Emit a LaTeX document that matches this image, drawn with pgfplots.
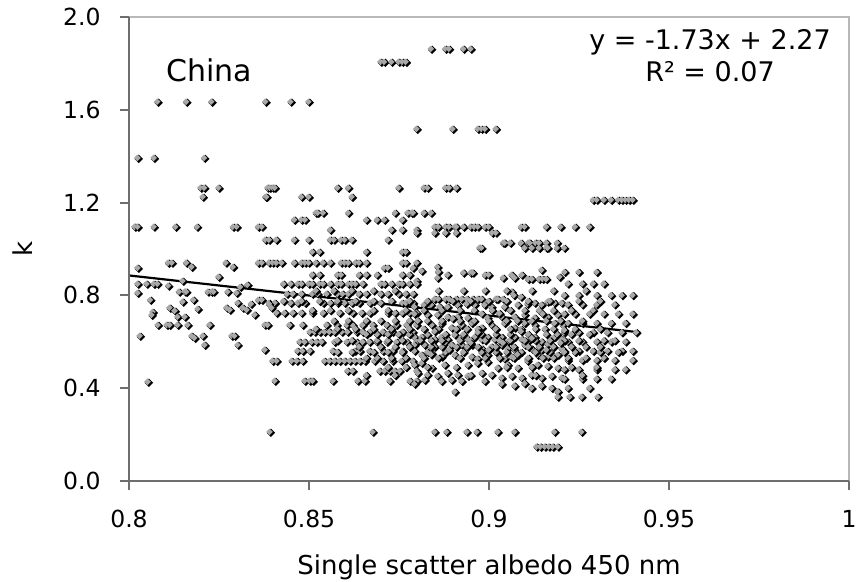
\documentclass[border=0pt]{standalone}
\usepackage{fontspec}
\setmainfont{DejaVu Sans}
\usepackage{pgfplots}
\pgfplotsset{compat=1.18}
\definecolor{axdark}{HTML}{6E6E6E}
\definecolor{axlight}{HTML}{B8B8B8}
\definecolor{markgray}{HTML}{A8A8A8}
% diamond with a dark lower-right edge
\pgfdeclareplotmark{kdiam}{%
  \pgfsetfillcolor{black}%
  \pgfpathmoveto{\pgfqpoint{0.8pt}{3.4pt}}%
  \pgfpathlineto{\pgfqpoint{5.0pt}{-0.8pt}}%
  \pgfpathlineto{\pgfqpoint{0.8pt}{-5.0pt}}%
  \pgfpathlineto{\pgfqpoint{-3.4pt}{-0.8pt}}%
  \pgfpathclose\pgfusepath{fill}%
  \pgfsetfillcolor{markgray}%
  \pgfpathmoveto{\pgfqpoint{-0.6pt}{3.5pt}}%
  \pgfpathlineto{\pgfqpoint{2.7pt}{0.2pt}}%
  \pgfpathlineto{\pgfqpoint{-0.6pt}{-3.1pt}}%
  \pgfpathlineto{\pgfqpoint{-3.9pt}{0.2pt}}%
  \pgfpathclose\pgfusepath{fill}%
}
\begin{document}
\begin{tikzpicture}
\path[use as bounding box] (-129pt,-100pt) rectangle (733pt,481pt);
\begin{axis}[
  name=ax, at={(0pt,0pt)}, anchor=south west,
  scale only axis, width=720pt, height=464pt,
  xmin=0.8, xmax=1, ymin=0, ymax=2,
  xtick={0.8,0.85,0.9,0.95,1},
  ytick={0,0.4,0.8,1.2,1.6,2},
  xtick pos=bottom, ytick pos=left,
  tick align=outside, major tick length=9pt,
  tick style={axdark, line width=2pt},
  axis line style={draw=none},
  ticklabel style={font=\fontsize{23.5}{28}\selectfont, /pgf/number format/assume math mode=true},
  xticklabel style={yshift=-17pt, /pgf/number format/.cd, fixed, precision=2},
  yticklabel style={xshift=-16pt, /pgf/number format/.cd, fixed, fixed zerofill, precision=1},
  xlabel={Single scatter albedo 450 nm},
  ylabel={k},
  label style={font=\fontsize{26}{30}\selectfont},
  xlabel style={at={(axis description cs:0.5,0)}, anchor=base, yshift=-93pt},
  ylabel style={at={(axis description cs:0,0.5)}, anchor=center, yshift=106pt},
]
% measured k values
\addplot[only marks, mark=kdiam] coordinates {
(0.884,1.862)(0.888,1.862)(0.889,1.862)(0.893,1.862)(0.895,1.862)
(0.870,1.806)(0.871,1.806)(0.873,1.806)(0.875,1.806)(0.876,1.806)(0.877,1.806)
(0.808,1.634)(0.816,1.634)(0.823,1.634)(0.838,1.634)(0.845,1.634)(0.850,1.634)
(0.880,1.517)(0.890,1.517)(0.897,1.517)(0.898,1.517)(0.899,1.517)(0.902,1.517)
(0.8025,1.392)(0.807,1.392)(0.821,1.392)
(0.820,1.263)(0.821,1.263)(0.825,1.263)(0.8386,1.263)(0.8392,1.263)(0.840,1.263)(0.8406,1.263)(0.858,1.263)(0.861,1.263)(0.875,1.263)(0.882,1.263)(0.883,1.263)(0.888,1.263)(0.889,1.263)(0.891,1.263)
(0.8206,1.224)(0.838,1.224)(0.8383,1.224)(0.848,1.224)(0.850,1.224)(0.862,1.224)
(0.929,1.211)(0.930,1.211)(0.932,1.211)(0.934,1.211)(0.936,1.211)(0.937,1.211)(0.938,1.211)(0.939,1.211)(0.940,1.211)
(0.852,1.155)(0.8525,1.155)(0.854,1.155)(0.861,1.155)(0.874,1.155)(0.8775,1.155)(0.8786,1.155)(0.879,1.155)(0.882,1.155)(0.884,1.155)
(0.846,1.125)(0.848,1.125)(0.849,1.125)(0.866,1.125)(0.869,1.125)(0.871,1.125)(0.876,1.125)
(0.8017,1.095)(0.8025,1.095)(0.807,1.095)(0.813,1.095)(0.819,1.095)(0.829,1.095)(0.830,1.095)(0.836,1.095)(0.837,1.095)
(0.885,1.095)(0.886,1.095)(0.888,1.095)(0.889,1.095)(0.8906,1.095)(0.891,1.095)(0.893,1.095)(0.895,1.095)(0.896,1.095)(0.897,1.095)(0.899,1.095)(0.900,1.095)(0.909,1.095)(0.910,1.095)(0.916,1.095)(0.920,1.095)(0.924,1.095)(0.928,1.095)
(0.856,1.082)(0.873,1.082)(0.876,1.082)(0.880,1.082)
(0.880,1.069)(0.885,1.069)(0.888,1.069)(0.891,1.069)(0.901,1.069)(0.902,1.069)
(0.838,1.039)(0.839,1.039)(0.841,1.039)(0.846,1.039)(0.850,1.039)(0.856,1.039)(0.857,1.039)(0.859,1.039)(0.860,1.039)(0.862,1.039)(0.872,1.039)
(0.904,1.026)(0.9044,1.026)(0.906,1.026)(0.909,1.026)(0.911,1.026)(0.9114,1.026)(0.913,1.026)(0.914,1.026)(0.916,1.026)(0.919,1.026)
(0.8975,1.004)(0.898,1.004)(0.910,1.004)(0.912,1.004)(0.914,1.004)(0.916,1.004)(0.9164,1.004)(0.919,1.004)(0.921,1.004)
(0.851,0.987)(0.853,0.987)(0.866,0.987)(0.876,0.987)(0.877,0.987)
(0.811,0.940)(0.812,0.940)(0.816,0.940)(0.827,0.940)(0.836,0.940)(0.837,0.940)(0.839,0.940)(0.840,0.940)(0.841,0.940)(0.8425,0.940)(0.846,0.940)(0.848,0.940)(0.849,0.940)(0.850,0.940)(0.852,0.940)(0.854,0.940)(0.856,0.940)(0.859,0.940)(0.860,0.940)(0.861,0.940)(0.863,0.940)(0.864,0.940)(0.866,0.940)(0.876,0.940)(0.877,0.940)(0.880,0.940)
(0.8175,0.922)(0.829,0.922)(0.8858,0.922)(0.8025,0.918)(0.871,0.918)(0.872,0.918)(0.879,0.918)
(0.8814,0.905)(0.9147,0.909)(0.886,0.901)(0.893,0.897)(0.895,0.897)(0.8956,0.897)
(0.851,0.888)(0.853,0.888)(0.858,0.888)(0.859,0.888)(0.864,0.888)(0.866,0.888)(0.869,0.888)(0.876,0.888)(0.878,0.888)(0.8886,0.888)(0.899,0.888)(0.900,0.888)(0.9064,0.888)(0.9092,0.888)
(0.825,0.879)(0.9197,0.879)(0.8858,0.875)(0.904,0.875)(0.9072,0.875)
(0.911,0.870)(0.912,0.870)(0.914,0.870)(0.915,0.870)(0.916,0.870)(0.815,0.862)(0.880,0.862)
(0.8025,0.849)(0.805,0.849)(0.807,0.849)(0.808,0.849)(0.843,0.849)(0.845,0.849)(0.847,0.849)(0.848,0.849)(0.850,0.849)(0.851,0.849)(0.853,0.849)(0.854,0.849)(0.856,0.849)(0.858,0.849)(0.859,0.849)(0.861,0.849)(0.862,0.849)(0.863,0.849)(0.865,0.849)(0.870,0.849)(0.871,0.849)(0.873,0.849)(0.875,0.849)(0.876,0.849)(0.878,0.849)(0.880,0.849)
(0.833,0.845)(0.811,0.841)(0.831,0.836)
(0.814,0.815)(0.8156,0.815)(0.816,0.815)(0.822,0.815)(0.823,0.815)(0.8236,0.815)(0.8275,0.815)(0.9064,0.815)(0.8025,0.810)(0.830,0.810)
(0.844,0.806)(0.8456,0.806)(0.848,0.806)(0.851,0.806)(0.8525,0.806)(0.855,0.806)(0.858,0.806)(0.8594,0.806)(0.861,0.806)(0.864,0.806)(0.866,0.806)(0.870,0.806)(0.872,0.806)(0.875,0.806)(0.877,0.806)(0.879,0.806)
(0.907,0.800)(0.909,0.793)
(0.885,0.784)(0.886,0.784)(0.888,0.784)(0.889,0.784)(0.891,0.784)(0.8925,0.784)(0.894,0.784)(0.8956,0.784)(0.897,0.784)(0.898,0.784)(0.902,0.784)(0.9025,0.784)(0.904,0.784)
(0.806,0.780)(0.818,0.780)(0.836,0.780)(0.837,0.780)(0.815,0.772)
(0.839,0.767)(0.8406,0.767)(0.845,0.767)(0.847,0.767)(0.849,0.767)(0.854,0.767)(0.856,0.767)(0.858,0.767)(0.860,0.767)(0.862,0.767)(0.864,0.767)(0.867,0.767)(0.870,0.767)(0.876,0.767)(0.877,0.767)(0.879,0.767)
(0.834,0.763)(0.839,0.763)
(0.8794,0.750)(0.882,0.759)(0.884,0.759)(0.8864,0.750)(0.8886,0.750)(0.8914,0.759)(0.8939,0.763)(0.8961,0.759)(0.8989,0.759)(0.9008,0.750)(0.9044,0.750)(0.9081,0.759)(0.9108,0.763)(0.9128,0.767)(0.9147,0.759)(0.9164,0.772)(0.9183,0.767)(0.9203,0.767)
(0.8114,0.746)(0.8128,0.733)(0.8136,0.707)(0.8156,0.707)(0.8192,0.741)(0.8272,0.746)(0.8281,0.737)(0.8303,0.767)(0.8317,0.746)(0.8328,0.737)(0.8397,0.746)(0.8067,0.728)(0.8064,0.715)
(0.8411,0.724)(0.8433,0.724)(0.8456,0.724)(0.848,0.724)(0.851,0.724)(0.854,0.724)(0.8586,0.724)(0.8622,0.724)(0.8647,0.724)(0.867,0.724)(0.872,0.724)(0.874,0.724)(0.876,0.724)(0.878,0.724)(0.880,0.724)
(0.8794,0.720)(0.883,0.716)(0.8858,0.716)(0.8886,0.707)(0.8914,0.707)(0.8942,0.703)(0.8981,0.720)(0.8997,0.703)(0.9036,0.707)(0.9072,0.707)(0.910,0.716)(0.9128,0.703)(0.9164,0.707)(0.9192,0.716)(0.835,0.716)
(0.8081,0.672)(0.8106,0.672)(0.8114,0.672)(0.8136,0.672)(0.8164,0.672)(0.8225,0.672)(0.8378,0.672)(0.8386,0.672)(0.8447,0.672)(0.8483,0.672)(0.855,0.672)(0.8578,0.672)(0.8606,0.672)(0.8622,0.672)(0.865,0.672)(0.8678,0.672)(0.8717,0.672)(0.8744,0.672)(0.8772,0.672)(0.880,0.672)
(0.8803,0.690)(0.8842,0.672)(0.8869,0.680)(0.8897,0.660)(0.8925,0.672)(0.8953,0.680)(0.8981,0.660)(0.9008,0.672)(0.9044,0.680)(0.9072,0.660)(0.910,0.680)(0.9128,0.672)(0.9156,0.655)(0.9183,0.680)(0.9206,0.672)
(0.8503,0.642)(0.8517,0.642)(0.8531,0.642)(0.8544,0.642)(0.8558,0.642)(0.8572,0.642)(0.8592,0.642)(0.8608,0.642)(0.8633,0.642)(0.865,0.642)(0.8669,0.642)(0.8706,0.642)(0.8733,0.642)(0.8761,0.642)(0.8789,0.642)
(0.8031,0.625)(0.8175,0.625)(0.8206,0.625)(0.8286,0.625)(0.8294,0.625)(0.8183,0.616)(0.8211,0.586)(0.8303,0.586)
(0.8794,0.620)(0.8814,0.620)(0.883,0.630)(0.885,0.610)(0.8869,0.620)(0.8886,0.610)(0.8906,0.630)(0.8925,0.620)(0.8942,0.610)(0.8961,0.620)(0.8981,0.610)(0.8997,0.620)(0.9017,0.610)(0.9036,0.620)(0.9053,0.600)(0.9072,0.620)(0.9092,0.610)(0.9108,0.600)(0.9128,0.620)(0.9147,0.600)(0.9164,0.590)(0.9183,0.620)(0.9203,0.610)
(0.8475,0.599)(0.8489,0.599)(0.8508,0.599)(0.8522,0.599)(0.8536,0.599)(0.8572,0.599)(0.8606,0.599)(0.8633,0.599)(0.865,0.599)(0.8669,0.599)(0.8689,0.599)(0.8717,0.599)(0.8744,0.599)(0.8772,0.599)(0.880,0.599)
(0.8794,0.586)(0.8822,0.586)(0.885,0.578)(0.8878,0.595)(0.8897,0.586)(0.8925,0.586)(0.8953,0.586)(0.8981,0.570)(0.9008,0.578)(0.9036,0.586)(0.9053,0.570)(0.9072,0.565)(0.910,0.586)(0.9119,0.570)(0.9147,0.565)(0.9175,0.586)(0.9203,0.570)
(0.8469,0.560)(0.8483,0.560)(0.8503,0.560)(0.8567,0.560)(0.8628,0.560)(0.8642,0.560)(0.8669,0.560)(0.8706,0.560)(0.8733,0.560)(0.8761,0.560)(0.8794,0.560)(0.8378,0.565)
(0.8814,0.543)(0.8842,0.550)(0.8869,0.535)(0.8906,0.543)(0.8953,0.535)(0.8969,0.526)(0.8997,0.543)(0.9025,0.550)(0.9044,0.526)(0.9064,0.535)(0.9081,0.543)(0.9108,0.526)(0.9136,0.543)(0.9164,0.535)(0.9192,0.543)
(0.8400,0.517)(0.8411,0.517)(0.8453,0.517)(0.8467,0.517)(0.8483,0.517)(0.8544,0.517)(0.8558,0.517)(0.8572,0.517)(0.8586,0.517)(0.860,0.517)(0.8614,0.517)(0.8628,0.517)(0.8642,0.517)(0.8656,0.517)(0.8683,0.517)(0.8706,0.517)(0.8733,0.517)(0.8758,0.517)(0.8789,0.517)
(0.8794,0.500)(0.8814,0.508)(0.8842,0.487)(0.8878,0.500)(0.8942,0.500)(0.8969,0.508)(0.8997,0.513)(0.9025,0.487)(0.9053,0.500)(0.9081,0.487)(0.9108,0.517)(0.9136,0.500)(0.9164,0.495)(0.9192,0.487)
(0.8608,0.474)(0.8622,0.474)(0.8697,0.474)(0.8711,0.474)(0.8725,0.474)(0.8739,0.474)(0.8753,0.474)(0.880,0.474)
(0.8803,0.465)(0.883,0.457)(0.8858,0.452)(0.8886,0.465)(0.8914,0.457)(0.8942,0.452)(0.8981,0.465)(0.9008,0.457)(0.9036,0.444)(0.9064,0.452)(0.9092,0.444)(0.9119,0.457)(0.9147,0.444)(0.9175,0.452)(0.9203,0.444)
(0.8406,0.431)(0.8489,0.431)(0.8503,0.431)(0.8511,0.431)(0.8567,0.431)(0.8636,0.431)(0.8656,0.431)(0.8725,0.431)(0.8781,0.431)(0.880,0.431)(0.8053,0.427)
(0.8794,0.418)(0.8822,0.435)(0.8869,0.430)(0.8897,0.435)(0.8906,0.384)(0.8925,0.430)(0.8989,0.430)(0.9036,0.418)(0.9072,0.410)(0.910,0.420)(0.9119,0.400)(0.9147,0.410)(0.9175,0.400)(0.9192,0.385)
(0.9192,0.362)(0.9225,0.362)(0.9258,0.362)(0.9303,0.362)
(0.8392,0.211)(0.8678,0.211)(0.885,0.211)(0.8883,0.211)(0.8939,0.211)(0.8967,0.211)(0.9025,0.211)(0.9072,0.211)(0.9183,0.211)(0.9258,0.211)
(0.9133,0.147)(0.9144,0.147)(0.9156,0.147)(0.9167,0.147)(0.9178,0.147)(0.9192,0.147)
(0.9211,0.900)(0.925,0.900)(0.930,0.900)
(0.922,0.850)(0.926,0.850)(0.929,0.850)(0.932,0.850)
(0.921,0.800)(0.925,0.800)(0.930,0.800)(0.934,0.800)(0.937,0.800)(0.940,0.800)
(0.922,0.760)(0.926,0.760)(0.930,0.760)(0.935,0.760)
(0.921,0.720)(0.924,0.720)(0.928,0.720)(0.932,0.720)(0.936,0.720)(0.940,0.720)
(0.922,0.680)(0.926,0.680)(0.930,0.680)(0.934,0.680)(0.938,0.680)
(0.921,0.640)(0.925,0.640)(0.929,0.640)(0.933,0.640)(0.937,0.640)(0.941,0.640)
(0.922,0.600)(0.926,0.600)(0.930,0.600)(0.934,0.600)(0.938,0.600)
(0.921,0.560)(0.925,0.560)(0.929,0.560)(0.933,0.560)(0.937,0.560)(0.940,0.560)
(0.922,0.520)(0.926,0.520)(0.930,0.520)(0.935,0.520)(0.940,0.520)
(0.921,0.480)(0.925,0.480)(0.930,0.480)(0.935,0.480)(0.938,0.480)
(0.921,0.440)(0.926,0.440)(0.930,0.440)(0.934,0.440)
(0.922,0.400)(0.928,0.400)
(0.866,0.530)(0.869,0.530)(0.873,0.530)(0.877,0.530)(0.882,0.530)(0.886,0.530)(0.892,0.530)(0.899,0.530)(0.903,0.530)(0.907,0.530)(0.911,0.530)(0.915,0.530)(0.918,0.530)(0.922,0.530)(0.927,0.530)(0.932,0.530)
(0.858,0.555)(0.862,0.555)(0.868,0.555)(0.872,0.555)(0.876,0.555)(0.883,0.555)(0.888,0.555)(0.893,0.555)(0.898,0.555)(0.902,0.555)(0.905,0.555)(0.909,0.555)(0.913,0.555)(0.917,0.555)(0.921,0.555)(0.924,0.555)(0.931,0.555)(0.936,0.555)
(0.864,0.578)(0.870,0.578)(0.874,0.578)(0.878,0.578)(0.884,0.578)(0.887,0.578)(0.891,0.578)(0.894,0.578)(0.897,0.578)(0.902,0.578)(0.907,0.578)(0.911,0.578)(0.914,0.578)(0.918,0.578)(0.923,0.578)(0.927,0.578)(0.931,0.578)
(0.858,0.605)(0.862,0.605)(0.869,0.605)(0.872,0.605)(0.876,0.605)(0.881,0.605)(0.884,0.605)(0.887,0.605)(0.892,0.605)(0.895,0.605)(0.899,0.605)(0.903,0.605)(0.906,0.605)(0.910,0.605)(0.913,0.605)(0.917,0.605)(0.921,0.605)(0.925,0.605)(0.932,0.605)(0.935,0.605)
(0.866,0.632)(0.869,0.632)(0.872,0.632)(0.875,0.632)(0.878,0.632)(0.888,0.632)(0.893,0.632)(0.898,0.632)(0.902,0.632)(0.906,0.632)(0.911,0.632)(0.916,0.632)(0.919,0.632)(0.923,0.632)(0.928,0.632)
(0.852,0.655)(0.858,0.655)(0.863,0.655)(0.868,0.655)(0.873,0.655)(0.878,0.655)(0.882,0.655)(0.886,0.655)(0.891,0.655)(0.894,0.655)(0.897,0.655)(0.902,0.655)(0.906,0.655)(0.909,0.655)(0.913,0.655)(0.918,0.655)(0.924,0.655)(0.931,0.655)
(0.857,0.690)(0.861,0.690)(0.866,0.690)(0.870,0.690)(0.874,0.690)(0.878,0.690)(0.883,0.690)(0.887,0.690)(0.892,0.690)(0.896,0.690)(0.900,0.690)(0.905,0.690)(0.908,0.690)(0.912,0.690)(0.916,0.690)(0.920,0.690)(0.926,0.690)
(0.851,0.735)(0.856,0.735)(0.861,0.735)(0.868,0.735)(0.872,0.735)(0.877,0.735)(0.882,0.735)(0.887,0.735)(0.892,0.735)(0.896,0.735)(0.901,0.735)(0.906,0.735)(0.910,0.735)(0.914,0.735)(0.918,0.735)(0.923,0.735)(0.929,0.735)
(0.843,0.775)(0.848,0.775)(0.853,0.775)(0.858,0.775)(0.863,0.775)(0.868,0.775)(0.873,0.775)(0.878,0.775)(0.883,0.775)(0.890,0.775)(0.895,0.775)(0.900,0.775)(0.905,0.775)(0.911,0.775)(0.917,0.775)(0.925,0.775)(0.931,0.775)
(0.852,0.820)(0.857,0.820)(0.862,0.820)(0.868,0.820)(0.874,0.820)(0.886,0.820)(0.893,0.820)(0.899,0.820)(0.905,0.820)(0.912,0.820)(0.918,0.820)(0.927,0.820)
(0.872,0.490)(0.877,0.490)(0.883,0.490)(0.891,0.490)(0.905,0.490)(0.912,0.490)(0.923,0.490)(0.930,0.490)
(0.866,0.455)(0.874,0.455)(0.895,0.455)(0.913,0.455)(0.926,0.455)
(0.884,0.545)(0.889,0.565)(0.895,0.595)(0.900,0.565)(0.904,0.595)(0.908,0.545)(0.912,0.615)(0.916,0.565)(0.920,0.595)(0.885,0.645)(0.890,0.700)(0.897,0.640)(0.903,0.722)(0.909,0.645)(0.915,0.720)(0.921,0.650)
};
% linear trend y = -1.73x + 2.27
\addplot[black, line width=2.2pt] coordinates {(0.8,0.886)(0.942,0.6404)};
\node[anchor=base west, font=\fontsize{30}{36}\selectfont] at (axis cs:0.8094,1.72) {China};
\node[anchor=base, font=\fontsize{27}{32}\selectfont] at (axis cs:0.9614,1.862) {y = -1.73x + 2.27};
\node[anchor=base, font=\fontsize{27}{32}\selectfont] at (axis cs:0.9614,1.72) {R² = 0.07};
\end{axis}
\draw[axlight, line width=2pt] (ax.north west) -- (ax.north east) -- (ax.south east);
\draw[axdark, line width=2.5pt] (ax.north west) -- (ax.south west) -- (ax.south east);
\end{tikzpicture}
\end{document}
